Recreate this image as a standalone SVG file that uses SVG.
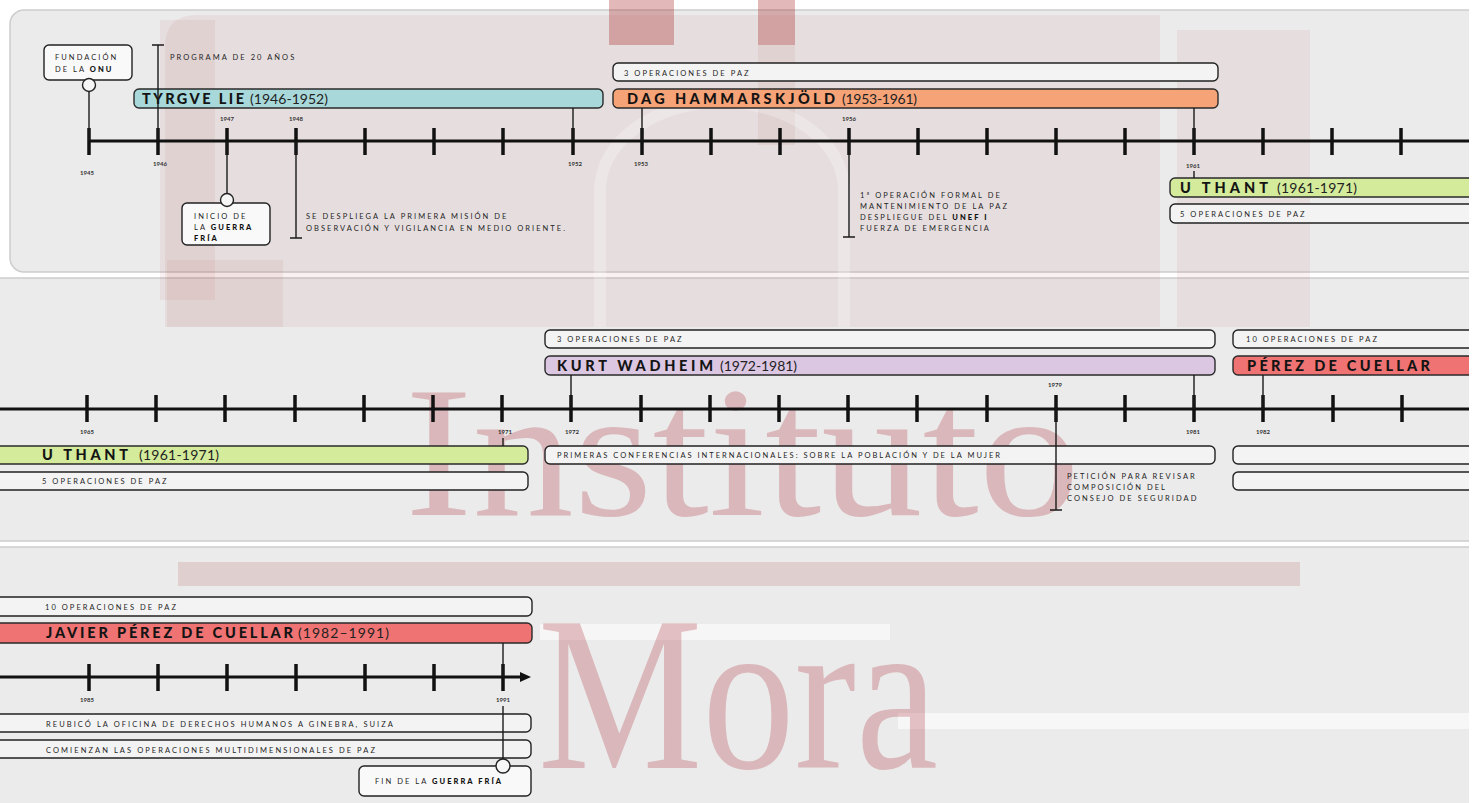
<svg xmlns="http://www.w3.org/2000/svg" width="1477" height="803" viewBox="0 0 1477 803">
<defs>
<style>
.panel{fill:#ebebeb;stroke:#cdcdcd;stroke-width:1.5}
.tl{stroke:#111;stroke-width:3}
.tick{stroke:#111;stroke-width:3.5}
.conn{stroke:#1a1a1a;stroke-width:1.4;fill:none}
.box{fill:#f3f3f3;stroke:#222;stroke-width:1.4}
.bar{stroke:#2a2a2a;stroke-width:1.4}
.teal{fill:#a8d8da}.orange{fill:#f6a378}.green{fill:#d4eb9b}.lilac{fill:#dcc7e3}.red{fill:#f07373}
.dot{fill:#f6f6f6;stroke:#222;stroke-width:1.4}
.s{font-family:Lato,"Open Sans",sans-serif;font-size:7.5px;letter-spacing:2.05px;fill:#1e1e1e}
.b{font-weight:900;fill:#111}
.yr{font-family:Lato,"Open Sans",sans-serif;font-size:6px;font-weight:700;fill:#333;text-anchor:middle}
.nm{font-family:Lato,"Open Sans",sans-serif;font-size:14.5px;font-weight:900;fill:#141414}
.pr{font-family:Lato,"Open Sans",sans-serif;font-size:14px;fill:#222}
.wm{fill:rgba(170,60,60,0.07)}
.wmd{fill:rgba(170,40,40,0.33)}
.wmt{font-family:"Liberation Serif",serif;fill:rgba(175,45,55,0.27)}
</style>
<marker id="arr" markerUnits="userSpaceOnUse" viewBox="0 0 11 10" refX="0" refY="5" markerWidth="11" markerHeight="10" orient="auto">
<path d="M0,0 L11,5 L0,10 Z" fill="#111"/>
</marker>
</defs>
<rect width="1477" height="803" fill="#ffffff"/>
<g id="panels">
<rect class="panel" x="10" y="10" width="1480" height="262" rx="14"/>
<rect class="panel" x="-5" y="278" width="1495" height="263"/>
<rect class="panel" x="-5" y="547" width="1495" height="270"/>
<rect x="540" y="624" width="350" height="16" fill="#ffffff" opacity="0.55"/>
<rect x="898" y="713" width="571" height="16" fill="#ffffff" opacity="0.6"/>
</g>
<g id="watermark">
<path class="wm" d="M165,47 Q165,15 197,15 L1160,15 L1160,327 L165,327 Z"/>
<rect class="wm" x="160" y="20" width="55" height="280"/>
<rect class="wm" x="167" y="260" width="116" height="67"/>
<rect class="wmd" x="609" y="0" width="65" height="45"/>
<rect class="wmd" x="758" y="0" width="37" height="45"/>
<rect class="wm" x="758" y="45" width="37" height="100"/>
<rect class="wm" x="1177" y="30" width="133" height="297"/>
<path d="M600,327 L600,190 A122,88 0 0 1 844,190 L844,327" fill="none" stroke="rgba(255,255,255,0.25)" stroke-width="12"/>
<rect x="178" y="562" width="1122" height="24" fill="rgba(160,50,50,0.15)"/>
<text class="wmt" x="405" y="515" font-size="186" textLength="675" lengthAdjust="spacingAndGlyphs">Instituto</text>
<text class="wmt" x="538" y="768" font-size="220" textLength="400" lengthAdjust="spacingAndGlyphs">Mora</text>
</g>
<g id="years">
<text class="yr" x="87" y="175">1945</text>
<text class="yr" x="160" y="166">1946</text>
<text class="yr" x="227" y="121">1947</text>
<text class="yr" x="296" y="121">1948</text>
<text class="yr" x="575" y="166">1952</text>
<text class="yr" x="641" y="166">1953</text>
<text class="yr" x="849" y="121">1956</text>
<text class="yr" x="1193" y="168">1961</text>
<text class="yr" x="87" y="434">1965</text>
<text class="yr" x="505" y="434">1971</text>
<text class="yr" x="572" y="434">1972</text>
<text class="yr" x="1055" y="387">1979</text>
<text class="yr" x="1193" y="434">1981</text>
<text class="yr" x="1263" y="434">1982</text>
<text class="yr" x="87" y="702">1985</text>
<text class="yr" x="503" y="702">1991</text>
</g>
<g id="fundacion">
<rect class="box" x="44" y="45" width="88" height="35" rx="5" style="fill:#f9f9f9"/>
<circle class="dot" cx="89" cy="85" r="6.5"/>
<text class="s" x="55" y="60">FUNDACIÓN</text>
<text class="s" x="55" y="72">DE LA <tspan class="b">ONU</tspan></text>
</g>
<g id="programa">
<text class="s" x="170" y="60">PROGRAMA DE 20 AÑOS</text>
</g>
<g id="tyrgve">
<rect class="bar teal" x="134" y="89" width="469" height="19" rx="5"/>
<text class="nm" x="142" y="104" textLength="102" lengthAdjust="spacing">TYRGVE LIE</text>
<text class="pr" x="250" y="104" textLength="78" lengthAdjust="spacing">(1946-1952)</text>
</g>
<g id="guerra-fria">
<rect class="box" x="182" y="203" width="88" height="42" rx="5" style="fill:#f9f9f9"/>
<circle class="dot" cx="227" cy="200" r="6.5"/>
<text class="s" x="194" y="219">INICIO DE</text>
<text class="s" x="194" y="230">LA <tspan class="b">GUERRA</tspan></text>
<text class="s" x="194" y="241"><tspan class="b">FRÍA</tspan></text>
</g>
<g id="mision">
<text class="s" x="306" y="219">SE DESPLIEGA LA PRIMERA MISIÓN DE</text>
<text class="s" x="306" y="231" textLength="261" lengthAdjust="spacing">OBSERVACIÓN Y VIGILANCIA EN MEDIO ORIENTE.</text>
</g>
<g id="ops-hammarskjold">
<rect class="box" x="613" y="63" width="605" height="18" rx="5"/>
<text class="s" x="624" y="76">3 OPERACIONES DE PAZ</text>
</g>
<g id="hammarskjold">
<rect class="bar orange" x="613" y="89" width="605" height="19" rx="5"/>
<text class="nm" x="627" y="104" textLength="208" lengthAdjust="spacing">DAG HAMMARSKJÖLD</text>
<text class="pr" x="842" y="104" textLength="75" lengthAdjust="spacing">(1953-1961)</text>
</g>
<g id="unef">
<text class="s" x="860" y="198">1ª OPERACIÓN FORMAL DE</text>
<text class="s" x="860" y="209">MANTENIMIENTO DE LA PAZ</text>
<text class="s" x="860" y="220">DESPLIEGUE DEL <tspan class="b">UNEF I</tspan></text>
<text class="s" x="860" y="231">FUERZA DE EMERGENCIA</text>
</g>
<g id="uthant-1">
<rect class="bar green" x="1170" y="178" width="320" height="19" rx="5"/>
<text class="nm" x="1180" y="193" textLength="88" lengthAdjust="spacing">U THANT</text>
<text class="pr" x="1277" y="193" textLength="80" lengthAdjust="spacing">(1961-1971)</text>
<rect class="box" x="1170" y="204" width="320" height="19" rx="5"/>
<text class="s" x="1180" y="217">5 OPERACIONES DE PAZ</text>
</g>
<g id="uthant-2">
<rect class="bar green" x="-10" y="446" width="538" height="18" rx="5"/>
<text class="nm" x="42" y="460" textLength="86" lengthAdjust="spacing">U THANT</text>
<text class="pr" x="139" y="460" textLength="80" lengthAdjust="spacing">(1961-1971)</text>
<rect class="box" x="-10" y="472" width="538" height="18" rx="5"/>
<text class="s" x="42" y="484">5 OPERACIONES DE PAZ</text>
</g>
<g id="ops-waldheim">
<rect class="box" x="545" y="330" width="670" height="18" rx="5"/>
<text class="s" x="557" y="342">3 OPERACIONES DE PAZ</text>
</g>
<g id="waldheim">
<rect class="bar lilac" x="545" y="356" width="670" height="19" rx="5"/>
<text class="nm" x="557" y="371" textLength="156" lengthAdjust="spacing">KURT WADHEIM</text>
<text class="pr" x="720" y="371" textLength="77" lengthAdjust="spacing">(1972-1981)</text>
</g>
<g id="conferencias">
<rect class="box" x="545" y="446" width="670" height="18" rx="5"/>
<text class="s" x="557" y="458" textLength="445" lengthAdjust="spacing">PRIMERAS CONFERENCIAS INTERNACIONALES: SOBRE LA POBLACIÓN Y DE LA MUJER</text>
</g>
<g id="peticion">
<text class="s" x="1067" y="479">PETICIÓN PARA REVISAR</text>
<text class="s" x="1067" y="490">COMPOSICIÓN DEL</text>
<text class="s" x="1067" y="501">CONSEJO DE SEGURIDAD</text>
</g>
<g id="ops-perez-1">
<rect class="box" x="1233" y="330" width="260" height="18" rx="5"/>
<text class="s" x="1246" y="342">10 OPERACIONES DE PAZ</text>
</g>
<g id="perez-1">
<rect class="bar red" x="1233" y="356" width="260" height="19" rx="5"/>
<text class="nm" x="1247" y="371" textLength="183" lengthAdjust="spacing">PÉREZ DE CUELLAR</text>
<rect class="box" x="1233" y="446" width="260" height="18" rx="5"/>
<rect class="box" x="1233" y="472" width="260" height="18" rx="5"/>
</g>
<g id="ops-perez-2">
<rect class="box" x="-10" y="597" width="542" height="19" rx="5"/>
<text class="s" x="45" y="610">10 OPERACIONES DE PAZ</text>
</g>
<g id="perez-2">
<rect class="bar red" x="-10" y="623" width="542" height="20" rx="5"/>
<text class="nm" x="46" y="638" textLength="247" lengthAdjust="spacing">JAVIER PÉREZ DE CUELLAR</text>
<text class="pr" x="298" y="638" textLength="91" lengthAdjust="spacing">(1982–1991)</text>
</g>
<g id="reubico">
<rect class="box" x="-10" y="714" width="541" height="18" rx="5"/>
<text class="s" x="46" y="727" textLength="349" lengthAdjust="spacing">REUBICÓ LA OFICINA DE DERECHOS HUMANOS A GINEBRA, SUIZA</text>
</g>
<g id="comienzan">
<rect class="box" x="-10" y="740" width="541" height="18" rx="5"/>
<text class="s" x="46" y="753" textLength="331" lengthAdjust="spacing">COMIENZAN LAS OPERACIONES MULTIDIMENSIONALES DE PAZ</text>
</g>
<g id="fin-guerra-fria">
<rect class="box" x="359" y="766" width="172" height="30" rx="5" style="fill:#f9f9f9"/>
<circle class="dot" cx="503" cy="766" r="7"/>
<text class="s" x="375" y="784">FIN DE LA <tspan class="b">GUERRA FRÍA</tspan></text>
</g>
<g id="connectors">
<line class="tl" x1="89" y1="141" x2="1469" y2="141"/>
<line class="tl" x1="0" y1="409" x2="1469" y2="409"/>
<line class="tl" x1="0" y1="677" x2="520" y2="677" marker-end="url(#arr)"/>
<path class="tick" d="M89,128V155M158,128V155M227,128V155M296,128V155M365,128V155M434,128V155M503,128V155M573,128V155M642,128V155M711,128V155M780,128V155M849,128V155M918,128V155M987,128V155M1056,128V155M1125,128V155M1194,128V155M1263,128V155M1332,128V155M1401,128V155"/>
<path class="tick" d="M87,395V422M156,395V422M225,395V422M295,395V422M364,395V422M433,395V422M502,395V422M571,395V422M641,395V422M710,395V422M779,395V422M848,395V422M917,395V422M987,395V422M1056,395V422M1125,395V422M1194,395V422M1263,395V422M1333,395V422M1402,395V422"/>
<path class="tick" d="M89,664V691M158,664V691M227,664V691M296,664V691M365,664V691M434,664V691M503,664V691"/>
<path class="conn" d="M89,91.5V141"/>
<path class="conn" d="M158,45V141M152,45H164"/>
<path class="conn" d="M573,108V141"/>
<path class="conn" d="M227,141V193.5"/>
<path class="conn" d="M296,141V238M290,238H302"/>
<path class="conn" d="M642,108V141"/>
<path class="conn" d="M1194,108V141"/>
<path class="conn" d="M849,141V237M843,237H855"/>
<path class="conn" d="M1194,171V178"/>
<path class="conn" d="M571,375V409"/>
<path class="conn" d="M1194,375V409"/>
<path class="conn" d="M1263,375V409"/>
<path class="conn" d="M503,438V446"/>
<path class="conn" d="M1056,409V510M1050,510H1062"/>
<path class="conn" d="M503,643V677"/>
<path class="conn" d="M503,706V759"/>
</g>
<rect x="1469" y="0" width="8" height="803" fill="#ffffff"/>
</svg>
